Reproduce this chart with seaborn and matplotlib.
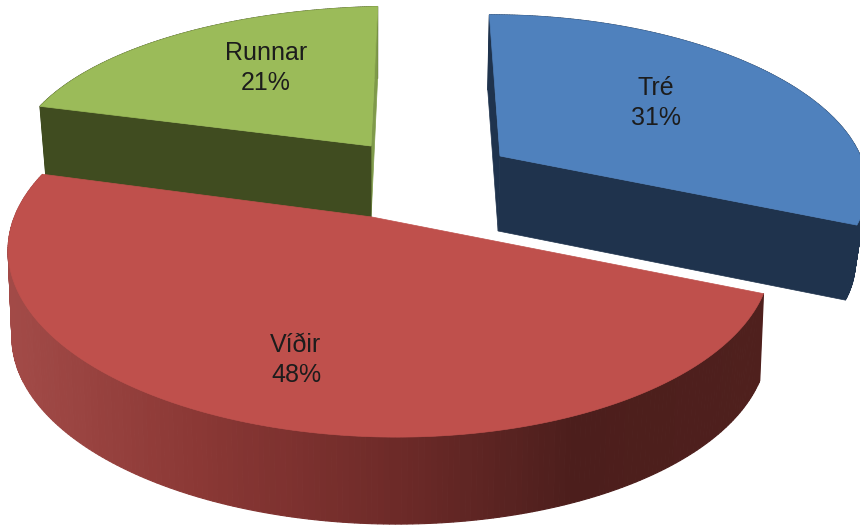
import numpy as np
import seaborn as sns
import matplotlib.pyplot as plt

names = ["Tré", "Víðir", "Runnar"]
shares = [31, 48, 21]

sns.set_theme(style="white")
plt.rcParams["font.family"] = ["Liberation Sans", "DejaVu Sans"]

start_angle = 2
top_cols = ["#4f81bd", "#bf504c", "#9bbb59"]
side_cols = ["#1f334d", None, "#404c20"]
# how each exploded slice sits on the canvas
geom = [
    dict(ax=500, ay=156, a=346, c=-24, d=158, e=0, p=0.12, q=-0.04, depth=75, vx=430, k=0.027),
    dict(ax=372, ay=217, a=373, c=-10, d=176, e=-3, p=0.20, q=-0.04, depth=87, vx=390, k=0.01),
    dict(ax=371, ay=146, a=391, c=-6, d=160, e=0, p=0.15, q=-0.10, depth=72, vx=375, k=0.018),
]
label_pos = [(656, 103), (296, 360), (266, 68)]


def project(g, theta):
    u, v = np.sin(np.radians(theta)), np.cos(np.radians(theta))
    w = 1 + g["p"] * v + g["q"] * u
    return g["ax"] + (g["a"] * u + g["c"] * v) / w, g["ay"] + (g["e"] * u - g["d"] * v) / w


def lower(g, x, y):
    return x + g["k"] * (g["vx"] - x), y + g["depth"]


edges = start_angle + 3.6 * np.cumsum([0] + shares)

f, ax = plt.subplots(figsize=(8.6, 5.27), dpi=100)
f.subplots_adjust(0, 0, 1, 1)
ax.set_xlim(0, 860)
ax.set_ylim(527, 0)
ax.axis("off")

red_side = sns.blend_palette(["#a34b48", "#8b3835", "#6f2b29", "#4c1e1c", "#4f201d"], 120)

# back to front: Runnar, Tre, Vidir
for i in [2, 0, 1]:
    g = geom[i]
    th = np.linspace(edges[i], edges[i + 1], 240)
    x, y = project(g, th)
    xb, yb = lower(g, x, y)
    axb, ayb = lower(g, g["ax"], g["ay"])

    # rim
    for j in range(len(th) - 1):
        if side_cols[i] is None:
            mid = (x[j] + x[j + 1]) / 2
            col = red_side[int(np.clip(mid / 765 * 119, 0, 119))]
        else:
            col = side_cols[i]
        ax.fill([x[j], x[j + 1], xb[j + 1], xb[j]], [y[j], y[j + 1], yb[j + 1], yb[j]], color=col, lw=0.8)

    # cut faces
    if i == 0:
        ax.fill([g["ax"], x[0], xb[0], axb], [g["ay"], y[0], yb[0], ayb], color=side_cols[i], lw=0.5)
        ax.fill([g["ax"], x[-1], xb[-1], axb], [g["ay"], y[-1], yb[-1], ayb], color=side_cols[i], lw=0.5)
    if i == 2:
        ax.fill([g["ax"], x[-1], xb[-1], axb], [g["ay"], y[-1], yb[-1], ayb], color="#7f9a4a", lw=0.5)
        ax.fill([g["ax"], x[0], xb[0], axb], [g["ay"], y[0], yb[0], ayb], color=side_cols[i], lw=0.5)

    ax.fill(np.r_[g["ax"], x], np.r_[g["ay"], y], color=top_cols[i], lw=0.5)

for name, share, pos in zip(names, shares, label_pos):
    ax.text(pos[0], pos[1], f"{name}\n{share}%", ha="center", va="center", fontsize=18,
            color="#1c1c1c", linespacing=1.27)

f.savefig("out.png", dpi=100)
